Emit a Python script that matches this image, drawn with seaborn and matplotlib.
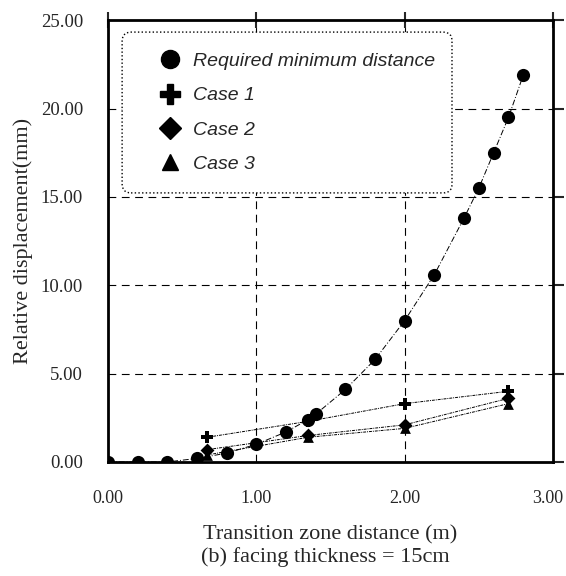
import matplotlib
matplotlib.use("Agg")
import matplotlib.pyplot as plt
import matplotlib.transforms as mtrans
import seaborn as sns
import pandas as pd
from matplotlib.lines import Line2D
from matplotlib.patches import FancyBboxPatch
from matplotlib.ticker import MultipleLocator, FuncFormatter

# ---- data ----
req_x = [0.0, 0.2, 0.4, 0.6, 0.8, 1.0, 1.2, 1.35, 1.4, 1.6, 1.8, 2.0, 2.2, 2.4, 2.5, 2.6, 2.7, 2.8]
req_y = [0.0, 0.0, 0.0, 0.2, 0.5, 1.0, 1.7, 2.4, 2.7, 4.1, 5.8, 8.0, 10.6, 13.8, 15.5, 17.5, 19.5, 21.9]
case_x = [0.0, 0.67, 1.35, 2.0, 2.7]
case1_y = [0.0, 1.4, 2.3, 3.3, 4.0]
case2_y = [0.0, 0.7, 1.5, 2.1, 3.6]
case3_y = [0.0, 0.4, 1.4, 1.9, 3.3]
labels = ["Required minimum distance", "Case 1", "Case 2", "Case 3"]
x_ticks = [0, 1, 2, 3]
y_ticks = [0, 5, 10, 15, 20, 25]

sns.set_style("white")
plt.rcParams["font.family"] = ["Liberation Serif", "DejaVu Serif"]

fig = plt.figure(figsize=(5.66, 5.76), dpi=100)
ax = fig.add_axes([0.191, 0.198, 0.786, 0.767])

series = [
    (req_x, req_y, "o", 90, (0, (6, 2, 1, 2)), 0.7),
    (case_x, case1_y, "P", 80, (0, (3, 1, 1, 1)), 0.7),
    (case_x, case2_y, "D", 50, (0, (3, 1, 1, 1)), 0.7),
    (case_x, case3_y, "^", 60, (0, (3, 1, 1, 1)), 0.7),
]
for (xs, ys, mk, s, ls, lw), lab in zip(series, labels):
    df = pd.DataFrame({"x": xs, "y": ys})
    start = 0 if lab == labels[0] else 1
    sns.lineplot(data=df.iloc[start:], x="x", y="y", ax=ax, color="black",
                 linestyle=ls, linewidth=lw, legend=False, sort=True)
    sns.scatterplot(data=df, x="x", y="y", ax=ax, marker=mk, s=s, color="black",
                    edgecolor="black", linewidth=0, legend=False, zorder=5)

ax.set_xlim(0, 3)
ax.set_ylim(0, 25)
ax.set_xticks(x_ticks)
ax.set_yticks(y_ticks)
ax.xaxis.set_minor_locator(MultipleLocator(0.5))
ax.yaxis.set_minor_locator(MultipleLocator(2.5))
fmt = FuncFormatter(lambda v, p: f"{v:.2f}")
ax.xaxis.set_major_formatter(fmt)
ax.yaxis.set_major_formatter(fmt)

for sp in ax.spines.values():
    sp.set_linewidth(2.0)
    sp.set_color("black")

ax.tick_params(axis="x", which="major", direction="inout", length=12, width=1.5,
               labelsize=13, pad=14, top=True)
ax.tick_params(axis="x", which="minor", direction="out", length=6, width=1.5, top=False)
ax.tick_params(axis="y", which="major", direction="out", length=8, width=1.5,
               labelsize=13.5, pad=10, right=True)
ax.tick_params(axis="y", which="minor", direction="out", length=6, width=1.5)

for gx in x_ticks[1:-1]:
    ax.axvline(gx, color="black", linestyle=(0, (7, 5)), linewidth=0.8, zorder=1)
for gy in y_ticks[1:-1]:
    ax.axhline(gy, color="black", linestyle=(0, (7, 5)), linewidth=0.8, zorder=1)

ax.set_xlabel("Transition zone distance (m)", fontsize=16, labelpad=13)
ax.set_ylabel("Relative displacement(mm)", fontsize=16, labelpad=6)
fig.text(0.575, 1 - 557 / 576, "(b) facing thickness = 15cm", ha="center", va="center",
         fontsize=16)

# keep the last x tick label inside the figure
fig.canvas.draw()
last = ax.get_xticklabels()[-1]
last.set_transform(last.get_transform() + mtrans.ScaledTranslation(-5 / 100, 0, fig.dpi_scale_trans))

# legend frame (rounded, dotted)
box = FancyBboxPatch((0.0315, 0.609), 0.7415, 0.364, transform=ax.transAxes,
                     boxstyle="round,pad=0,rounding_size=0.02", facecolor="white",
                     edgecolor="black", linestyle=":", linewidth=1.0, zorder=6)
ax.add_patch(box)

handles = [
    Line2D([], [], marker="o", color="black", linestyle="none", markersize=13),
    Line2D([], [], marker="P", color="black", linestyle="none", markersize=14),
    Line2D([], [], marker="D", color="black", linestyle="none", markersize=11),
    Line2D([], [], marker="^", color="black", linestyle="none", markersize=12),
]
leg = ax.legend(handles, labels, loc="upper left",
                bbox_to_anchor=(0.108, 0.927),
                prop={"family": "Liberation Sans", "style": "italic", "size": 14},
                frameon=False, borderpad=0, labelspacing=0.86,
                handletextpad=0.5, handlelength=1.4, borderaxespad=0)
leg.set_zorder(7)

fig.savefig("out.png", dpi=100)
